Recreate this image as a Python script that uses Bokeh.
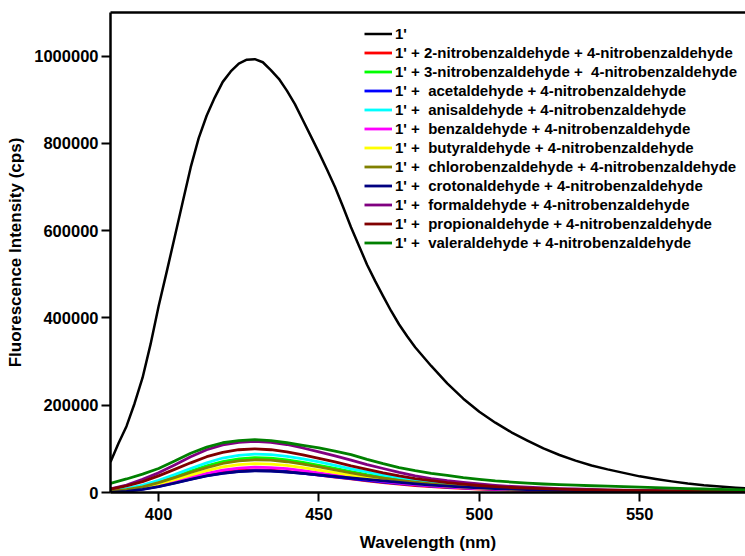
from bokeh.plotting import figure
from bokeh.models import FixedTicker, LinearAxis, Range1d, NumeralTickFormatter
from bokeh.embed import file_html
from bokeh.resources import INLINE

# wavelength grid (nm) for the 1' spectrum (read more densely around the peak)
wavelength_1 = [385, 387.5, 390, 392.5, 395, 397.5, 400, 402.5, 405, 407.5, 410, 412.5,
                415, 417.5, 420, 422.5, 425, 427.5, 430, 432.5, 435, 437.5, 440, 442.5,
                445, 447.5, 450, 452.5, 455, 457.5, 460, 462.5, 465, 467.5, 470, 472.5,
                475, 477.5, 480, 485, 490, 495, 500, 505, 510, 515, 520, 525, 530, 535,
                540, 545, 550, 555, 560, 565, 570, 575, 580, 585]

s_1 = [70000, 113000, 152000, 204000, 263000, 340000, 427000, 505000, 585000, 665000,
       745000, 812000, 864000, 905000, 941000, 965000, 983000, 992000, 993000, 986000,
       968000, 948000, 921000, 890000, 853000, 816000, 779000, 740000, 700000, 655000,
       608000, 565000, 522000, 485000, 450000, 416000, 385000, 358000, 333000, 290000,
       250000, 215000, 185000, 160000, 138000, 119000, 101000, 86000, 73000, 62000,
       53000, 45000, 37000, 31000, 25500, 20500, 16500, 13500, 11000, 9000]

# wavelength grid (nm) for the quenched spectra
wavelength = [385, 390, 395, 400, 405, 410, 415, 420, 425, 430, 435, 440, 445, 450, 455,
              460, 465, 470, 475, 480, 485, 490, 495, 500, 505, 510, 515, 520, 525, 530,
              535, 540, 545, 550, 555, 560, 565, 570, 575, 580, 585]

s_2nitro = [2000, 4500, 9000, 15500, 23500, 32000, 40000, 46500, 50500, 52000, 51000,
            48500, 44500, 40000, 35500, 31000, 26500, 22500, 19000, 16000, 13400, 11200,
            9400, 7900, 6700, 5700, 4900, 4200, 3600, 3200, 2800, 2500, 2200, 2000, 1800,
            1600, 1500, 1400, 1300, 1200, 1100]

s_3nitro = [3000, 7000, 14000, 24000, 36000, 49000, 61000, 71000, 77000, 80000, 79000,
            75000, 69000, 62000, 55000, 48000, 41000, 35000, 29500, 25000, 21000, 17500,
            14800, 12500, 10600, 9000, 7700, 6600, 5700, 5000, 4400, 3900, 3500, 3100, 2800,
            2500, 2300, 2100, 1900, 1800, 1700]

s_acet = [500, 3000, 7500, 14000, 22000, 30500, 38500, 44500, 48500, 50000, 49500, 47500,
          44000, 40000, 36000, 32000, 28000, 24000, 20500, 17500, 14800, 12500, 10500, 8900,
          7600, 6500, 5500, 4700, 4100, 3600, 3100, 2800, 2500, 2200, 2000, 1800, 1700, 1500,
          1400, 1300, 1200]

s_anis = [4000, 9000, 17000, 28000, 41000, 55000, 68000, 79000, 85000, 88000, 87000, 83000,
          77000, 70000, 62000, 54000, 47000, 40000, 34000, 28500, 24000, 20000, 17000, 14500,
          12300, 10500, 9000, 7800, 6800, 6000, 5300, 4700, 4200, 3800, 3400, 3100, 2800,
          2500, 2300, 2100, 2000]

s_benz = [2500, 5000, 10000, 17000, 26000, 35500, 44000, 51500, 56000, 58000, 57000, 54500,
          50000, 45000, 40000, 35000, 30000, 25500, 21500, 18000, 15200, 12800, 10700, 9000,
          7700, 6500, 5600, 4800, 4200, 3600, 3200, 2800, 2500, 2300, 2100, 1900, 1700, 1600,
          1500, 1400, 1300]

s_buty = [2500, 5500, 11000, 19500, 29500, 40000, 50000, 58500, 64000, 66000, 65000, 62000,
          57000, 51500, 45500, 39500, 34000, 29000, 24500, 20500, 17300, 14500, 12200, 10300,
          8700, 7400, 6400, 5500, 4700, 4100, 3600, 3200, 2900, 2600, 2300, 2100, 1900, 1700,
          1600, 1500, 1400]

s_chlo = [3000, 6500, 13000, 22500, 34000, 46000, 57000, 66500, 72500, 75000, 74000, 70500,
          65000, 58500, 52000, 45000, 38500, 33000, 28000, 23500, 19800, 16500, 14000, 11800,
          10000, 8500, 7300, 6200, 5400, 4700, 4100, 3700, 3300, 2900, 2600, 2400, 2200, 2000,
          1800, 1700, 1600]

s_crot = [0, 2500, 7000, 13500, 21500, 30000, 38000, 44000, 48000, 49500, 49000, 47000,
          44000, 40500, 37000, 33500, 30000, 26500, 23000, 20000, 17000, 14500, 12300, 10500,
          9000, 7700, 6600, 5700, 4900, 4300, 3700, 3200, 2800, 2500, 2200, 2000, 1800, 1600,
          1400, 1300, 1200]

s_form = [8500, 17000, 30000, 45000, 63000, 82000, 98000, 109000, 115000, 117000, 115000,
          110000, 102000, 93000, 84000, 74000, 64000, 55000, 46000, 38000, 32000, 27000, 23000,
          19500, 16500, 14000, 12000, 10500, 9000, 8000, 7000, 6000, 5300, 4700, 4200, 3800,
          3400, 3000, 2700, 2500, 2300]

s_prop = [8000, 15000, 25000, 38000, 53000, 68000, 82000, 92000, 98000, 100000, 98000, 93000,
          86000, 78000, 70000, 61000, 53000, 45000, 38000, 32000, 27000, 22500, 19000, 16000,
          13500, 11500, 10000, 8700, 7600, 6700, 6000, 5400, 4900, 4500, 4100, 3800, 3500, 3200,
          3000, 2800, 2600]

s_vale = [21000, 31000, 42000, 55000, 72000, 90000, 104000, 114000, 119000, 121000, 119000,
          114000, 108000, 102000, 95000, 87000, 76000, 66000, 57000, 50000, 44000, 39000, 34000,
          30000, 26500, 24000, 21500, 19500, 18000, 17000, 15500, 14500, 13500, 12500, 11000,
          10000, 9000, 8000, 7000, 6500, 6000]

labels = [
    "1'",
    "1' + 2-nitrobenzaldehyde + 4-nitrobenzaldehyde",
    "1' + 3-nitrobenzaldehyde +  4-nitrobenzaldehyde",
    "1' +  acetaldehyde + 4-nitrobenzaldehyde",
    "1' +  anisaldehyde + 4-nitrobenzaldehyde",
    "1' +  benzaldehyde + 4-nitrobenzaldehyde",
    "1' +  butyraldehyde + 4-nitrobenzaldehyde",
    "1' +  chlorobenzaldehyde + 4-nitrobenzaldehyde",
    "1' +  crotonaldehyde + 4-nitrobenzaldehyde",
    "1' +  formaldehyde + 4-nitrobenzaldehyde",
    "1' +  propionaldehyde + 4-nitrobenzaldehyde",
    "1' +  valeraldehyde + 4-nitrobenzaldehyde",
]
series = [s_1, s_2nitro, s_3nitro, s_acet, s_anis, s_benz, s_buty, s_chlo, s_crot,
          s_form, s_prop, s_vale]
colors = ["#000000", "#ff0000", "#00ff00", "#0000ff", "#00ffff", "#ff00ff", "#ffff00",
          "#808000", "#000080", "#800080", "#800000", "#008000"]

y_ticks = [0, 200000, 400000, 600000, 800000, 1000000]
x_ticks = [400, 450, 500, 550]

FONT = "Liberation Sans"

p = figure(width=745, height=556, output_backend="svg", toolbar_location=None,
           x_range=Range1d(385, 583), y_range=Range1d(0, 1100000),
           min_border_left=110, min_border_right=0, min_border_top=12, min_border_bottom=64)

for i, (ys, c, lab) in enumerate(zip(series, colors, labels)):
    xs = wavelength_1 if i == 0 else wavelength
    lw = 2.5 if i == 0 else 2.8
    p.line(xs, ys, line_color=c, line_width=lw, line_join="round", legend_label=lab)

p.grid.visible = False
p.outline_line_color = None
p.background_fill_color = "white"
p.border_fill_color = "white"

for ax in (p.xaxis[0], p.yaxis[0]):
    ax.axis_line_width = 2.5
    ax.major_tick_line_width = 2
    ax.major_tick_out = 9
    ax.major_tick_in = 0
    ax.minor_tick_line_color = None
    ax.major_label_text_font = FONT
    ax.major_label_text_font_style = "bold"
    ax.major_label_text_font_size = "16.5px"
    ax.major_label_text_color = "black"
    ax.axis_label_text_font = FONT
    ax.axis_label_text_font_style = "bold"
    ax.axis_label_text_font_size = "17px"
    ax.axis_label_text_color = "black"

p.xaxis.ticker = FixedTicker(ticks=x_ticks)
p.yaxis.ticker = FixedTicker(ticks=y_ticks)
p.yaxis.formatter = NumeralTickFormatter(format="0")
p.xaxis.axis_label = "Wavelength (nm)"
p.yaxis.axis_label = "Fluorescence Intensity (cps)"
p.xaxis.major_label_standoff = 6
p.xaxis.axis_label_standoff = 10
p.yaxis.major_label_standoff = 3
p.yaxis.axis_label_standoff = 6

top = LinearAxis(major_tick_line_color=None, minor_tick_line_color=None,
                 major_label_text_font_size="0px", axis_line_width=2.5,
                 major_label_standoff=0)
top.ticker = FixedTicker(ticks=[])
p.add_layout(top, "above")

leg = p.legend[0]
leg.location = (254, 240)
leg.border_line_color = None
leg.background_fill_alpha = 0
leg.label_text_font = FONT
leg.label_text_font_style = "bold"
leg.label_text_font_size = "15px"
leg.label_text_color = "black"
leg.glyph_width = 28
leg.glyph_height = 19
leg.label_height = 19
leg.spacing = 0
leg.padding = 0
leg.margin = 0
leg.label_standoff = 3

open("out.html", "w").write(file_html(p, INLINE))
